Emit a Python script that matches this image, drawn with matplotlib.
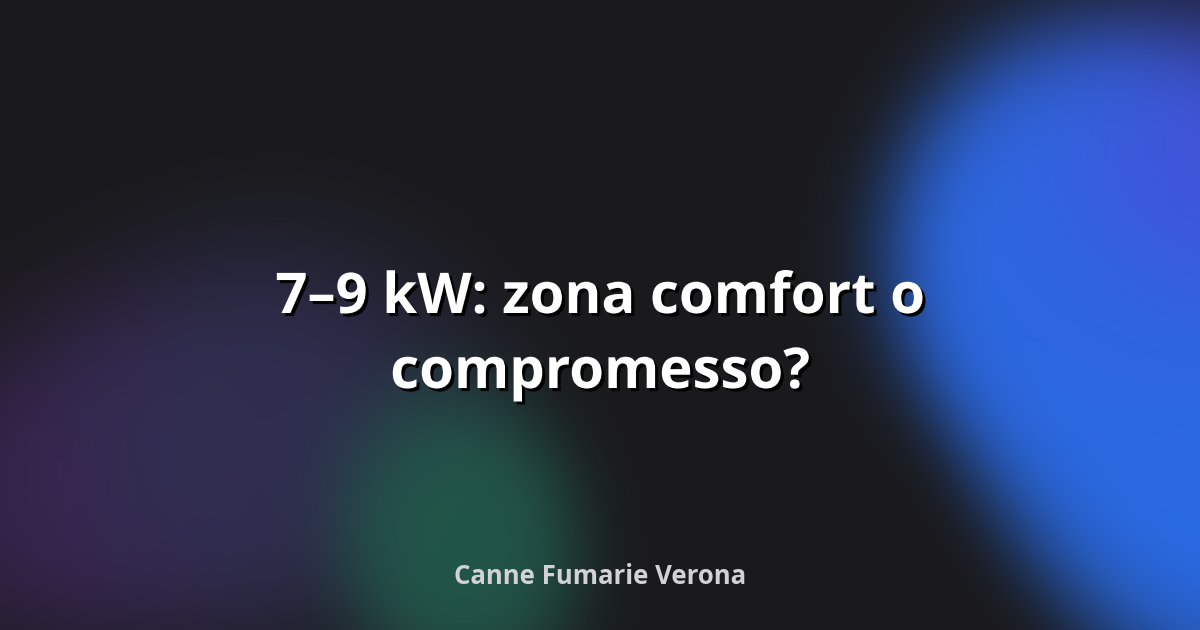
import numpy as np
import matplotlib
matplotlib.use('Agg')
import matplotlib.pyplot as plt
import matplotlib.patheffects as pe

# --- testo della card ---
title_lines = ['7–9 kW: zona comfort o', 'compromesso?']
subtitle = 'Canne Fumarie Verona'

# --- macchie di colore sullo sfondo (centro x, centro y in px, semiassi, angolo, colore, intensità) ---
blob_names = ['blu', 'blu_alto', 'viola_alto', 'viola_basso', 'indaco', 'verde']
blob_cx = [1190, 1085, 1240, 130, 270, 460]
blob_cy = [380, 255, 150, 470, 440, 540]
blob_rx = [366, 197, 170, 170, 200, 160]
blob_ry = [234, 197, 150, 250, 210, 125]
blob_ang = [62, 0, 0, 72, 72, 82]
blob_col = ['#2a6ae2', '#2c68e0', '#4650d8', '#3a2452', '#2f3152', '#22574a']
blob_alpha = [1.0, 1.0, 0.85, 0.95, 0.8, 0.95]
blob_power = [3, 2, 1, 1.5, 1.5, 1.8]

W, H = 1200, 630
BG = '#1a1a1c'


def hex2rgb(h):
    h = h.lstrip('#')
    return np.array([int(h[i:i + 2], 16) / 255 for i in (0, 2, 4)])


def make_background():
    yy, xx = np.mgrid[0:H, 0:W].astype(float)
    img = np.ones((H, W, 3)) * hex2rgb(BG)
    for cx, cy, rx, ry, ang, col, a, p in zip(blob_cx, blob_cy, blob_rx, blob_ry,
                                              blob_ang, blob_col, blob_alpha, blob_power):
        t = np.deg2rad(ang)
        dx, dy = xx - cx, yy - cy
        u = (dx * np.cos(t) + dy * np.sin(t)) / rx
        v = (-dx * np.sin(t) + dy * np.cos(t)) / ry
        r2 = u ** 2 + v ** 2
        w = np.exp(-r2 ** p) * a
        img = img * (1 - w[..., None]) + hex2rgb(col) * w[..., None]
    return np.clip(img, 0, 1)


fig = plt.figure(figsize=(12, 6.3), dpi=100)
ax = fig.add_axes([0, 0, 1, 1])
ax.imshow(make_background(), extent=[0, W, H, 0], aspect='auto', interpolation='bilinear')
ax.set_xlim(0, W)
ax.set_ylim(H, 0)
ax.axis('off')

shadow = [pe.SimplePatchShadow(offset=(2.2, -2.2), shadow_rgbFace='black', alpha=0.95), pe.Normal()]
fam = ['Open Sans', 'DejaVu Sans']

for line, yb in zip(title_lines, [313, 388]):
    ax.text(600, yb, line, ha='center', va='baseline', color='white', fontsize=40.5,
            fontweight='bold', family=fam, path_effects=shadow)

ax.text(600, 584, subtitle, ha='center', va='baseline', color='#d2d2d4', fontsize=18.5,
        fontweight='bold', family=fam)

fig.savefig('out.png', dpi=100)
